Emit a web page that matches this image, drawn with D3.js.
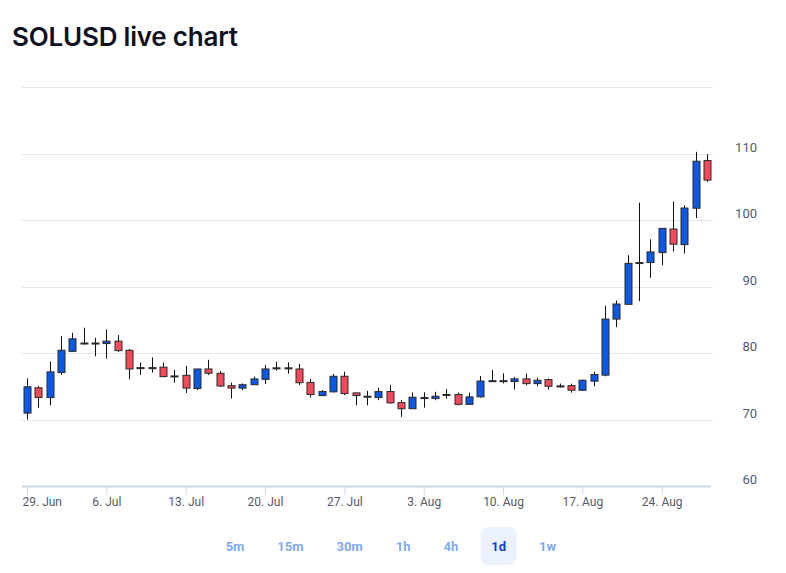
<!DOCTYPE html>
<html>
<head>
<meta charset="utf-8">
<script src="https://cdn.jsdelivr.net/npm/d3@7"></script>
<style>
  body { margin: 0; background: #fff; }
  svg { display: block; }
</style>
</head>
<body>
<div id="chart"></div>
<script>
// daily candles, first day = 29 Jun
var startDay = "2021-06-29";
var opens  = [70.96, 74.77, 73.3, 77.06, 80.25, 81.5, 81.5, 81.42, 81.78, 80.41,
              77.8, 77.8, 77.87, 76.55, 76.65, 74.67, 77.6, 76.95, 75.08, 74.72,
              75.23, 76.04, 77.77, 77.77, 77.6, 75.58, 73.6, 74.16, 76.5, 74.0,
              73.5, 73.3, 74.2, 72.54, 71.62, 73.3, 73.15, 73.76, 73.76, 72.28,
              73.4, 75.84, 75.84, 75.71, 76.11, 75.4, 76.0, 75.05, 75.1, 74.4,
              75.76, 76.67, 85.1, 87.32, 93.6, 93.6, 95.1, 98.64, 96.3, 101.77,
              108.94];
var highs  = [76.19, 75.03, 78.73, 82.54, 83.05, 83.8, 82.28, 83.55, 82.69, 80.6,
              78.58, 79.34, 78.58, 77.46, 78.07, 77.6, 78.98, 77.3, 75.53, 75.43,
              76.45, 78.22, 78.68, 78.58, 78.38, 76.09, 74.42, 76.85, 77.2, 74.0,
              74.3, 74.77, 75.23, 72.9, 74.06, 74.1, 74.16, 74.57, 74.06, 74.06,
              76.55, 77.46, 76.95, 76.41, 76.9, 76.26, 76.16, 75.4, 75.4, 76.0,
              77.17, 87.1, 87.88, 94.7, 102.6, 97.1, 98.74, 102.78, 102.2, 110.25,
              109.9];
var lows   = [70.0, 71.78, 72.13, 76.7, 80.25, 81.27, 79.5, 79.14, 80.15, 76.04,
              76.7, 77.06, 76.35, 75.53, 74.0, 74.42, 76.7, 74.92, 73.15, 74.42,
              75.23, 75.33, 77.36, 76.9, 75.18, 73.3, 73.5, 74.06, 73.65, 72.13,
              72.13, 72.9, 72.39, 70.4, 71.62, 71.78, 72.9, 73.15, 72.13, 72.28,
              73.3, 75.69, 75.43, 74.49, 75.15, 75.0, 74.49, 74.8, 74.04, 74.3,
              75.0, 76.5, 83.89, 87.32, 87.8, 91.3, 93.2, 95.25, 94.95, 100.3,
              105.7];
var closes = [74.92, 73.3, 77.16, 80.41, 82.13, 81.5, 81.5, 81.78, 80.36, 77.6,
              77.8, 77.8, 76.45, 76.55, 74.72, 77.6, 76.95, 75.03, 74.72, 75.23,
              76.1, 77.6, 77.77, 77.77, 75.53, 73.76, 74.2, 76.5, 73.9, 73.6,
              73.5, 74.2, 72.5, 71.62, 73.35, 73.3, 73.5, 73.76, 72.28, 73.4,
              75.79, 75.84, 75.84, 76.11, 75.4, 75.9, 75.0, 75.05, 74.4, 75.9,
              76.77, 85.1, 87.37, 93.48, 93.6, 95.2, 98.74, 96.36, 101.8, 108.84,
              106.0];
var xTicks = ["2021-06-29", "2021-07-06", "2021-07-13", "2021-07-20", "2021-07-27",
              "2021-08-03", "2021-08-10", "2021-08-17", "2021-08-24"];
var yTicks = [60, 70, 80, 90, 100, 110, 120];
var yLabels = [60, 70, 80, 90, 100, 110];
var ranges = ["5m", "15m", "30m", "1h", "4h", "1d", "1w"];
var activeRange = "1d";

var parse = d3.timeParse("%Y-%m-%d");
var day0 = parse(startDay);
var candles = opens.map(function (o, i) {
    return { date: d3.timeDay.offset(day0, i), open: o, high: highs[i], low: lows[i], close: closes[i] };
});

var width = 786, height = 573;
var svg = d3.select("#chart").append("svg").attr("width", width).attr("height", height);

// title
svg.append("text")
    .attr("x", 12).attr("y", 46)
    .style("font-family", "Inter, 'Noto Sans', sans-serif")
    .style("font-size", "26px")
    .style("font-weight", 600)
    .style("fill", "#0f1023")
    .style("letter-spacing", "-0.2px")
    .text("SOLUSD live chart");

var x = d3.scaleTime()
    .domain([day0, d3.timeDay.offset(day0, candles.length - 1)])
    .range([27, 707]);
var y = d3.scaleLinear().domain([60, 120]).range([486, 87]);

var plotLeft = 22, plotRight = 713;

// grid lines
svg.append("g").selectAll("line")
    .data(yTicks.slice(1))
    .enter().append("line")
    .attr("x1", plotLeft).attr("x2", plotRight)
    .attr("y1", function (d) { return Math.round(y(d)) + 0.5; })
    .attr("y2", function (d) { return Math.round(y(d)) + 0.5; })
    .style("stroke", "#e6e6e6").style("stroke-width", 1);

// y labels (sit just above their grid line)
svg.append("g").selectAll("text")
    .data(yLabels)
    .enter().append("text")
    .attr("x", 757)
    .attr("y", function (d) { return y(d) - 2; })
    .attr("text-anchor", "end")
    .style("font-family", "Roboto, sans-serif")
    .style("font-size", "13px")
    .style("fill", "#4f5b78")
    .text(function (d) { return d; });

// x axis
var xAxis = d3.axisBottom(x)
    .tickValues(xTicks.map(parse))
    .tickSize(9)
    .tickFormat(d3.timeFormat("%-d. %b"));
var gx = svg.append("g").attr("transform", "translate(0,486)").call(xAxis);
gx.select(".domain").remove();
gx.selectAll(".tick line").style("stroke", "#ccd6eb");
gx.selectAll(".tick text")
    .attr("dy", "0.71em").attr("y", 11)
    .style("font-family", "Roboto, sans-serif")
    .style("font-size", "12px")
    .style("fill", "#555a66");
gx.select(".tick text").attr("text-anchor", "start").attr("x", -5);
svg.append("line")
    .attr("x1", plotLeft).attr("x2", 711)
    .attr("y1", 486.5).attr("y2", 486.5)
    .style("stroke", "#ccd6eb").style("stroke-width", 2);

// candles
var bodyW = 7;
var cg = svg.append("g").selectAll("g")
    .data(candles)
    .enter().append("g")
    .attr("transform", function (d) { return "translate(" + (Math.round(x(d.date)) + 0.5) + ",0)"; });

cg.append("line")
    .attr("y1", function (d) { return y(d.high); })
    .attr("y2", function (d) { return y(d.low); })
    .style("stroke", "#111").style("stroke-width", 1);

cg.append("rect")
    .attr("x", -bodyW / 2)
    .attr("width", bodyW)
    .attr("y", function (d) { return y(Math.max(d.open, d.close)); })
    .attr("height", function (d) { return Math.max(1, Math.abs(y(d.open) - y(d.close))); })
    .style("fill", function (d) { return d.close >= d.open ? "#0a58e6" : "#f4495b"; })
    .style("stroke", "#2a2a2a")
    .style("stroke-width", 1);

// range buttons
var bg = svg.append("g");
var btnFont = "Roboto, sans-serif";
var widths = ranges.map(function (r) {
    var t = bg.append("text").style("font-family", btnFont).style("font-size", "13px")
        .style("font-weight", 700).text(r);
    var w = t.node().getComputedTextLength();
    t.remove();
    return w;
});
var cx = 235, centers = [];
ranges.forEach(function (r, i) {
    if (i > 0) cx += (widths[i - 1] + widths[i]) / 2 + 33;
    centers.push(cx);
});
var ai = ranges.indexOf(activeRange);
bg.append("rect")
    .attr("x", centers[ai] - 18).attr("y", 527)
    .attr("width", 36).attr("height", 38)
    .attr("rx", 8)
    .style("fill", "#ecf2fd");
bg.selectAll("text.btn")
    .data(ranges)
    .enter().append("text")
    .attr("class", "btn")
    .attr("x", function (d, i) { return centers[i]; })
    .attr("y", 551)
    .attr("text-anchor", "middle")
    .style("font-family", btnFont)
    .style("font-size", "13px")
    .style("font-weight", 700)
    .style("fill", function (d) { return d === activeRange ? "#0b3fcf" : "#80a9f2"; })
    .text(function (d) { return d; });
</script>
</body>
</html>
